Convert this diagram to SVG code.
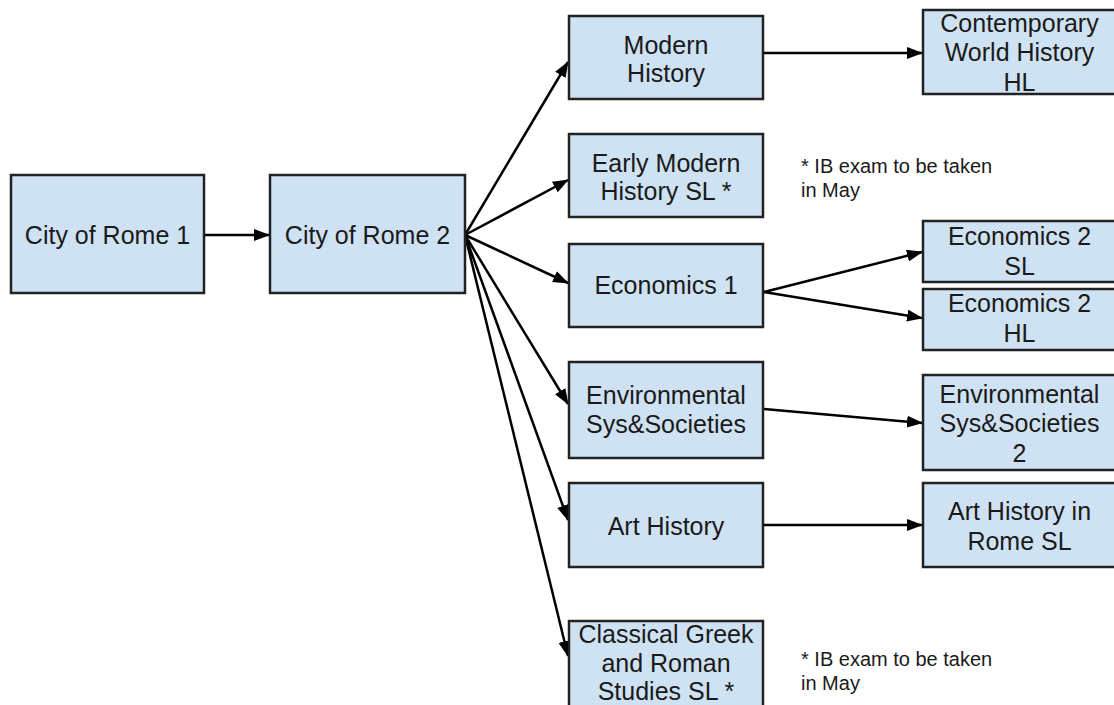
<svg xmlns="http://www.w3.org/2000/svg" width="1114" height="705" viewBox="0 0 1114 705">
<defs>
<marker id="ah" markerUnits="userSpaceOnUse" markerWidth="16" markerHeight="12" refX="15" refY="6" orient="auto">
<path d="M0,0 L16,6 L0,12 Z" fill="#000"/>
</marker>
<style>
.box{fill:#cfe2f3;stroke:#222;stroke-width:2.5}
.t{font-family:"Liberation Sans",Arial,sans-serif;font-size:25px;fill:#1a1a1a;text-anchor:middle}
.n{font-family:"Liberation Sans",Arial,sans-serif;font-size:20px;fill:#1a1a1a}
.c{stroke:#000;stroke-width:2.5;fill:none;marker-end:url(#ah)}
</style>
</defs>
<rect width="1114" height="705" fill="#fff"/>
<g id="connectors">
<line class="c" x1="205" y1="235" x2="269" y2="235"/>
<line class="c" x1="465" y1="235" x2="568" y2="62"/>
<line class="c" x1="465" y1="235" x2="568" y2="180"/>
<line class="c" x1="465" y1="235" x2="568" y2="283"/>
<line class="c" x1="465" y1="235" x2="568" y2="404"/>
<line class="c" x1="465" y1="235" x2="568" y2="520"/>
<line class="c" x1="465" y1="235" x2="568" y2="656"/>
<line class="c" x1="764" y1="53" x2="922" y2="53"/>
<line class="c" x1="764" y1="292" x2="922" y2="252"/>
<line class="c" x1="764" y1="292" x2="922" y2="318"/>
<line class="c" x1="764" y1="409" x2="922" y2="423"/>
<line class="c" x1="764" y1="525" x2="922" y2="525"/>
</g>
<g id="rome1"><rect class="box" x="11" y="175" width="193" height="118"/><text class="t" x="107.5" y="244">City of Rome 1</text></g>
<g id="rome2"><rect class="box" x="270" y="175" width="195" height="118"/><text class="t" x="367.5" y="244">City of Rome 2</text></g>
<g id="modern"><rect class="box" x="569" y="16" width="194" height="83"/><text class="t" x="666" y="54">Modern</text><text class="t" x="666" y="82">History</text></g>
<g id="earlymodern"><rect class="box" x="569" y="134" width="194" height="83"/><text class="t" x="666" y="172">Early Modern</text><text class="t" x="666" y="200">History SL *</text></g>
<g id="econ1"><rect class="box" x="569" y="244" width="194" height="83"/><text class="t" x="666" y="294">Economics 1</text></g>
<g id="env"><rect class="box" x="569" y="362" width="194" height="96"/><text class="t" x="666" y="404">Environmental</text><text class="t" x="666" y="433">Sys&amp;Societies</text></g>
<g id="art"><rect class="box" x="569" y="483" width="194" height="84"/><text class="t" x="666" y="535">Art History</text></g>
<g id="classical"><rect class="box" x="569" y="621" width="194" height="100"/><text class="t" x="666" y="643">Classical Greek</text><text class="t" x="666" y="672">and Roman</text><text class="t" x="666" y="700">Studies SL *</text></g>
<g id="contemporary"><rect class="box" x="923" y="10" width="194" height="84"/><text class="t" x="1019.5" y="32">Contemporary</text><text class="t" x="1019.5" y="61">World History</text><text class="t" x="1019.5" y="91">HL</text></g>
<g id="econ2sl"><rect class="box" x="923" y="221" width="194" height="61"/><text class="t" x="1019.5" y="245">Economics 2</text><text class="t" x="1019.5" y="275">SL</text></g>
<g id="econ2hl"><rect class="box" x="923" y="289" width="194" height="61"/><text class="t" x="1019.5" y="312">Economics 2</text><text class="t" x="1019.5" y="342">HL</text></g>
<g id="env2"><rect class="box" x="923" y="375" width="194" height="95"/><text class="t" x="1019.5" y="403">Environmental</text><text class="t" x="1019.5" y="432">Sys&amp;Societies</text><text class="t" x="1019.5" y="462">2</text></g>
<g id="artrome"><rect class="box" x="923" y="483" width="194" height="84"/><text class="t" x="1019.5" y="520">Art History in</text><text class="t" x="1019.5" y="550">Rome SL</text></g>
<g id="note1"><text class="n" x="801" y="173">* IB exam to be taken</text><text class="n" x="801" y="197">in May</text></g>
<g id="note2"><text class="n" x="801" y="666">* IB exam to be taken</text><text class="n" x="801" y="690">in May</text></g>
</svg>
